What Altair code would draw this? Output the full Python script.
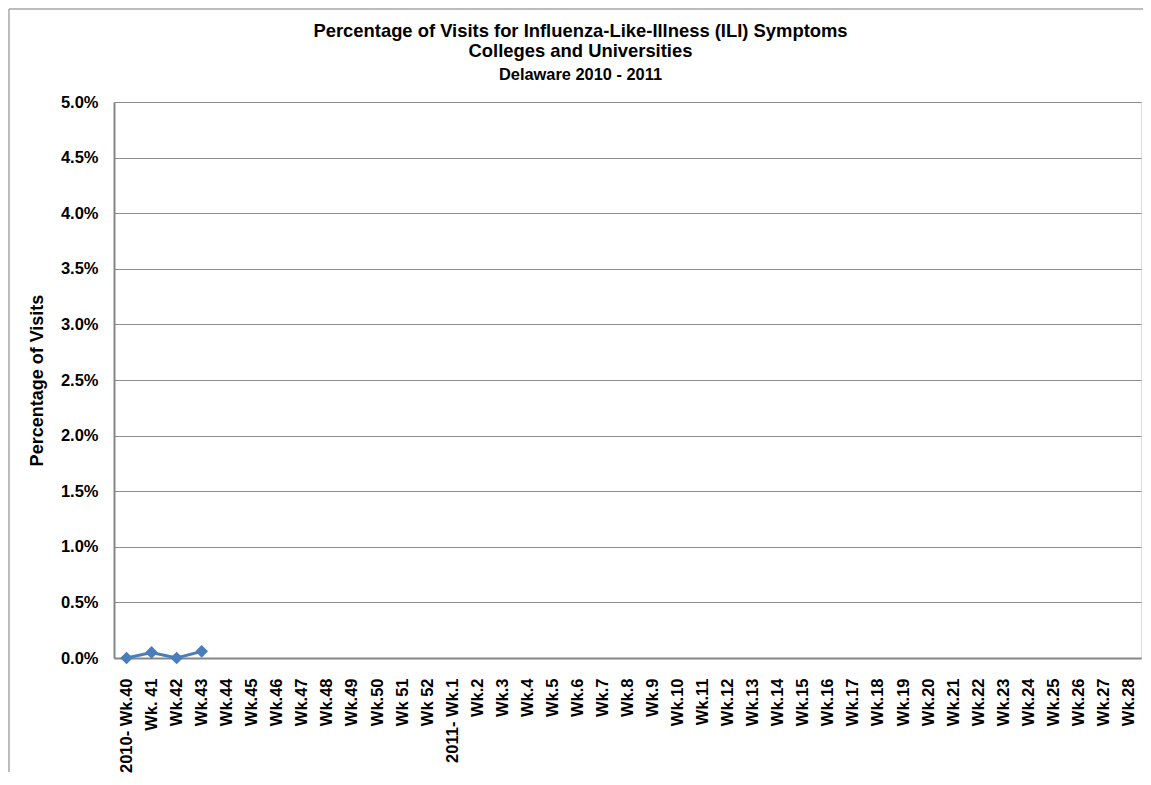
import altair as alt
import pandas as pd

weeks = ["2010- Wk.40", "Wk. 41", "Wk.42", "Wk.43", "Wk.44", "Wk.45", "Wk.46", "Wk.47",
         "Wk.48", "Wk.49", "Wk.50", "Wk 51", "Wk 52", "2011- Wk.1", "Wk.2", "Wk.3", "Wk.4",
         "Wk.5", "Wk.6", "Wk.7", "Wk.8", "Wk.9", "Wk.10", "Wk.11", "Wk.12", "Wk.13",
         "Wk.14", "Wk.15", "Wk.16", "Wk.17", "Wk.18", "Wk.19", "Wk.20", "Wk.21", "Wk.22",
         "Wk.23", "Wk.24", "Wk.25", "Wk.26", "Wk.27", "Wk.28"]
observed_weeks = ["2010- Wk.40", "Wk. 41", "Wk.42", "Wk.43"]
ili_pct = [0.0000, 0.0005, 0.0000, 0.0006]
y_ticks = [0.0, 0.005, 0.01, 0.015, 0.02, 0.025, 0.03, 0.035, 0.04, 0.045, 0.05]

df = pd.DataFrame({"week": observed_weeks, "pct": ili_pct})

FONT = "Liberation Sans"
BLUE = "#4A7EBB"
GRID = "#8C8C8C"
AXIS = "#868686"

x_enc = alt.X(
    "week:O",
    sort=weeks,
    scale=alt.Scale(domain=weeks, type="point", padding=0.5),
    axis=alt.Axis(
        title=None, labelAngle=-90, labelFont=FONT, labelFontSize=16.5,
        labelFontWeight="bold", labelColor="black", labelPadding=20,
        labelOverlap=False, ticks=False, domainColor=AXIS, domainWidth=2,
        grid=False,
    ),
)
y_enc = alt.Y(
    "pct:Q",
    scale=alt.Scale(domain=[0, 0.05], nice=False),
    axis=alt.Axis(
        title="Percentage of Visits", titleFont=FONT, titleFontSize=18,
        titleFontWeight="bold", titleColor="black", titlePadding=14,
        format=".1%", values=y_ticks, labelFont=FONT, labelFontSize=16.5,
        labelFontWeight="bold", labelColor="black", labelPadding=16,
        ticks=False, domainColor=AXIS, domainWidth=2,
        grid=True, gridColor=GRID, gridWidth=1,
    ),
)

line = alt.Chart(df).mark_line(
    color=BLUE, strokeWidth=3,
    point=alt.OverlayMarkDef(shape="diamond", size=160, filled=True, color=BLUE, opacity=1),
).encode(x=x_enc, y=y_enc)

frame_src = alt.Data(values=[{"k": 1}])
top_border = alt.Chart(frame_src).mark_rule(color="#A6A6A6", strokeWidth=1.5).encode(
    x=alt.value(-105), x2=alt.value(1029), y=alt.value(-93)
)
left_border = alt.Chart(frame_src).mark_rule(color="#A6A6A6", strokeWidth=1.5).encode(
    x=alt.value(-105), y=alt.value(-93), y2=alt.value(670)
)

chart = alt.layer(line, top_border, left_border).properties(
    width=1027,
    height=556,
    autosize="none",
    padding={"left": 106, "top": 94, "right": 2, "bottom": 119},
    title=alt.TitleParams(
        text=["Percentage of Visits for Influenza-Like-Illness (ILI) Symptoms",
              "Colleges and Universities"],
        subtitle="Delaware 2010 - 2011",
        font=FONT, fontSize=18.4, fontWeight="bold", color="black", lineHeight=20.5,
        subtitleFont=FONT, subtitleFontSize=16.4, subtitleFontWeight="bold",
        subtitleColor="black", subtitlePadding=6,
        anchor="middle", frame="group", dx=-47, offset=-75,
    ),
).configure_view(stroke=None).configure(background="white")

chart.save("out.html", embed_options={"renderer": "svg", "actions": False})
